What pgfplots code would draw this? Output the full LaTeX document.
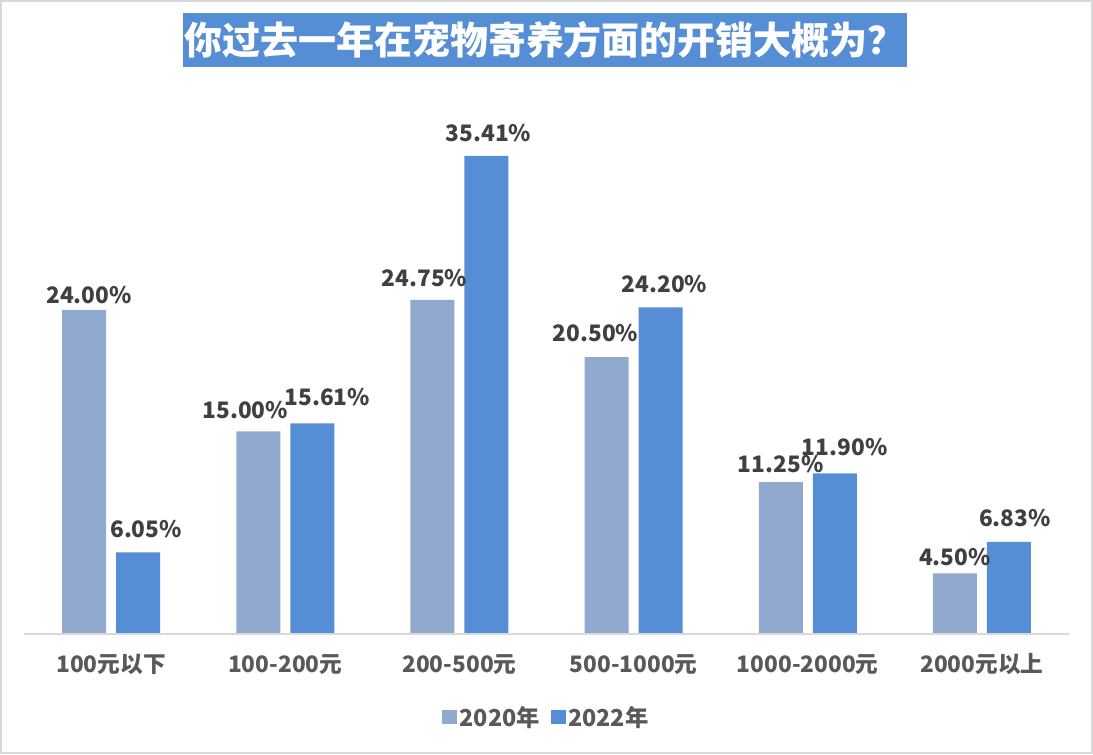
\documentclass[border=0pt]{standalone}
\usepackage{pgfplots}
\pgfplotsset{compat=1.18}
\usepackage{pgfplotstable}
\usepackage{fontspec}
\setmainfont{Noto Sans CJK SC}
\definecolor{cA}{RGB}{145,169,207}
\definecolor{cB}{RGB}{85,142,213}
\definecolor{lblc}{RGB}{64,64,64}
\definecolor{catc}{RGB}{89,89,89}
\definecolor{linec}{RGB}{217,217,217}

\pgfplotstableread{
x y dx dy
0 24.00 5 6
1 15.00 -13 13
2 24.75 -8 13
3 20.50 -11 16
4 11.25 0 10
5 4.50 0 8
}\tA
\pgfplotstableread{
x y dx dy
0 6.05 8 15
1 15.61 15 18
2 35.41 2 14
3 24.20 4 15
4 11.90 10 18
5 6.83 6 15
}\tB

\begin{document}
\begin{tikzpicture}
\useasboundingbox (0pt,0pt) rectangle (819.75pt,565.5pt);
\fill[white] (0pt,0pt) rectangle (819.75pt,565.5pt);
\draw[linec,line width=1.5pt] (0.4pt,0.4pt) rectangle (819.35pt,565.1pt);
\node[fill=cB,text=white,minimum width=543pt,minimum height=40.5pt,inner sep=0pt,
  font=\fontsize{28.5}{30}\selectfont\bfseries] at (408.75pt,535.5pt) {你过去一年在宠物寄养方面的开销大概为？};
\begin{axis}[
  at={(18pt,90pt)}, anchor=south west,
  scale only axis, width=783.75pt, height=405pt,
  xmin=-0.5, xmax=5.5, ymin=0, ymax=40,
  clip=false,
  axis line style={draw=none},
  major tick length=0pt,
  ytick=\empty,
  xtick={0,1,2,3,4,5},
  xticklabels={100元以下,100-200元,200-500元,500-1000元,1000-2000元,2000元以上},
  xticklabel style={anchor=base, yshift=-28.5pt, text=catc, font=\fontsize{17}{20}\selectfont\bfseries},
  ybar=7.5pt, bar width=33pt,
  /pgf/number format/assume math mode=true,
  visualization depends on={\thisrow{dx} \as \dx},
  visualization depends on={\thisrow{dy} \as \dy},
  nodes near coords={\pgfmathprintnumber[fixed,fixed zerofill,precision=2]{\pgfplotspointmeta}\%},
  nodes near coords style={anchor=base, xshift={0.75pt*\dx}, yshift={0.75pt*\dy}, text=lblc, font=\fontsize{17}{20}\selectfont\bfseries, inner sep=0pt},
  legend style={at={(0.5,-0.1537)}, anchor=center, draw=none, fill=none, legend columns=2,
    font=\fontsize{17.5}{20}\selectfont\bfseries, text=catc,
    /tikz/every even column/.append style={column sep=6pt}},
  legend image code/.code={\fill[#1] (0pt,-5.25pt) rectangle (11.25pt,5.25pt);},
]
\addplot[fill=cA, draw=none] table[x=x,y=y] {\tA};
\addplot[fill=cB, draw=none] table[x=x,y=y] {\tB};
\legend{2020年,2022年}
\draw[linec, line width=1.2pt] (axis cs:-0.5,0) -- (axis cs:5.5,0);
\end{axis}
\end{tikzpicture}
\end{document}
